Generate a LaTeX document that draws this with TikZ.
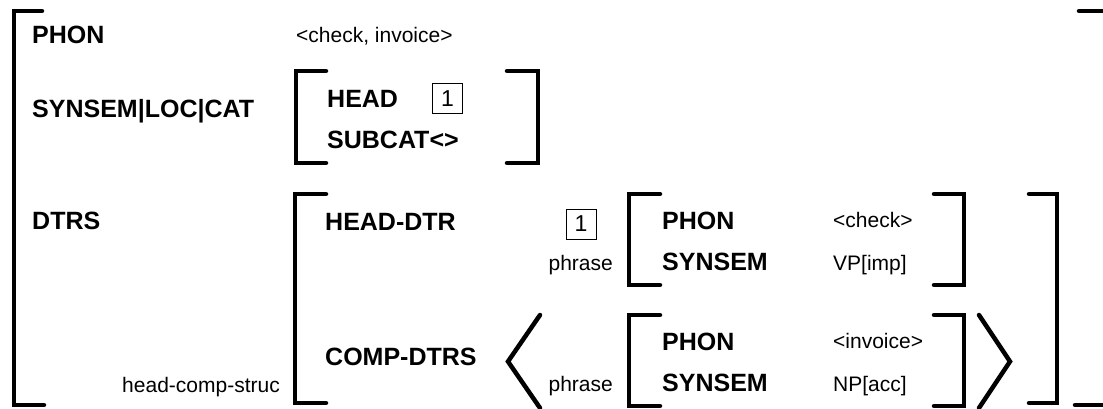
\documentclass[tikz,border=0pt]{standalone}
\usepackage{fontspec}
\setmainfont{Liberation Sans}
\begin{document}
\begin{tikzpicture}[x=1pt,y=-1pt,
  brk/.style={line width=4.5pt,line cap=round,line join=miter},
  feat/.style={anchor=base west,inner sep=0pt,font=\fontsize{25}{30}\selectfont\bfseries},
  val/.style={anchor=base west,inner sep=0pt,font=\fontsize{21}{25}\selectfont},
  tagbox/.style={draw,line width=0.9pt,minimum size=30pt,inner sep=0pt,font=\fontsize{23}{27}\selectfont}]
\useasboundingbox (0,0) rectangle (1103,408);
% outer brackets
\draw[brk] (42,11) -- (14,11) -- (14,405) -- (44,405);
\draw[brk] (1079,11) -- (1106,11);
\draw[brk] (1075,405) -- (1106,405);
% top level
\node[feat] (phon) at (32,43) {PHON};
\node[val] (phonv) at (296,42) {<check, invoice>};
\node[feat] (cat) at (32,117) {SYNSEM|LOC|CAT};
\draw[brk] (326,71) -- (296,71) -- (296,163) -- (326,163);
\draw[brk] (507,71) -- (538,71) -- (538,163) -- (507,163);
\node[feat] (head) at (327,107) {HEAD};
\node[tagbox] (tag1) at (447.5,98.5) {1};
\node[feat] (subcat) at (327,148) {SUBCAT<>};
\node[feat] (dtrs) at (32,229.5) {DTRS};
\node[val,anchor=base east] (hcs) at (280,392) {head-comp-struc};
% DTRS value
\draw[brk] (326,194) -- (295,194) -- (295,403) -- (326,403);
\draw[brk] (1029,194) -- (1057,194) -- (1057,403) -- (1029,403);
\node[feat] (hd) at (325,230) {HEAD-DTR};
\node[feat] (cd) at (325,365) {COMP-DTRS};
% head daughter
\node[tagbox] (tag2) at (581,224) {1};
\node[val,anchor=base east] (ph1) at (613,270.5) {phrase};
\draw[brk] (660,194) -- (629,194) -- (629,285) -- (660,285);
\draw[brk] (934,194) -- (964,194) -- (964,285) -- (934,285);
\node[feat] (p1) at (662,229.5) {PHON};
\node[feat] (s1) at (662,270.5) {SYNSEM};
\node[val] (p1v) at (833,227) {<check>};
\node[val] (s1v) at (833,270) {VP[imp]};
% comp daughters
\draw[brk] (540,315) -- (508,361.5) -- (540,408);
\draw[brk] (979,315) -- (1010,361.5) -- (979,408);
\node[val,anchor=base east] (ph2) at (613,391.5) {phrase};
\draw[brk] (660,315) -- (629,315) -- (629,406) -- (660,406);
\draw[brk] (934,315) -- (964,315) -- (964,406) -- (934,406);
\node[feat] (p2) at (662,350) {PHON};
\node[feat] (s2) at (662,391.5) {SYNSEM};
\node[val] (p2v) at (833,348.5) {<invoice>};
\node[val] (s2v) at (833,391.5) {NP[acc]};
\end{tikzpicture}
\end{document}
